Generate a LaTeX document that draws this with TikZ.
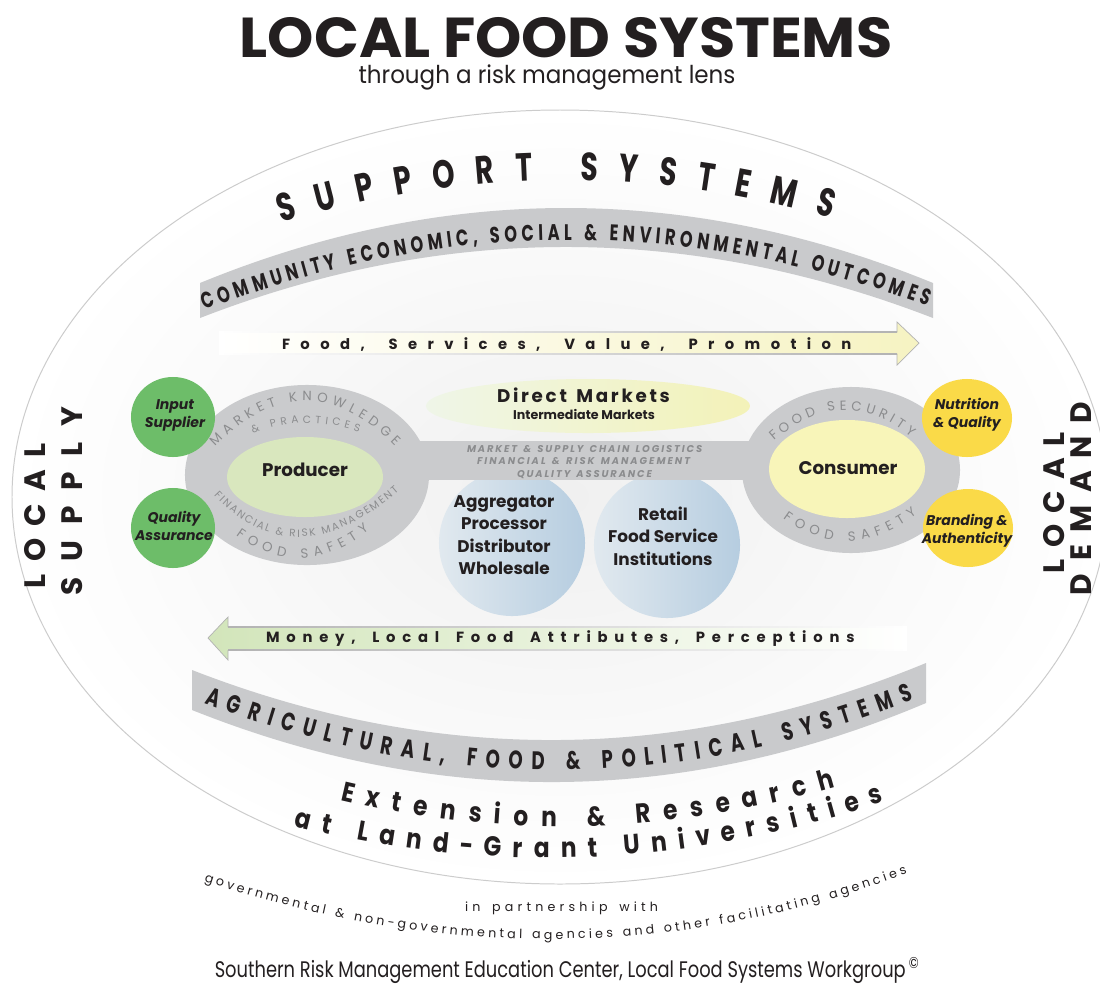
\documentclass[tikz,border=0pt]{standalone}
\usepackage{graphicx}
\usepackage{fontspec}
\setmainfont{Poppins}
\newfontfamily\condfont[FakeStretch=0.72]{Poppins}
\newfontfamily\semicondfont[FakeStretch=0.85]{Poppins}
\usepackage{tikz}
\usetikzlibrary{shapes.geometric,decorations.text,calc}

\definecolor{ink}{HTML}{231F20}
\definecolor{ringgray}{HTML}{CACBCD}
\definecolor{ringtxt}{HTML}{8B8C8E}
\definecolor{bandgray}{HTML}{C9CACC}
\definecolor{ballgreen}{HTML}{6DBD69}
\definecolor{ballyellow}{HTML}{FADA48}
\definecolor{prodfill}{HTML}{D9E7BE}
\definecolor{consfill}{HTML}{F8F5B9}
\definecolor{bluelt}{HTML}{E1E9EF}
\definecolor{bluedk}{HTML}{B6CDE0}
\definecolor{foodyellow}{HTML}{F6F3C2}
\definecolor{moneygreen}{HTML}{D2E5BA}
\definecolor{dmgreen}{HTML}{C9DFB2}
\definecolor{dmyellow}{HTML}{F3F2B8}

\tikzstyle{ball} = [ellipse, inner sep=0pt]
\tikzstyle{greenball} = [ball, fill=ballgreen, minimum width=2.1cm, minimum height=2cm]
\tikzstyle{yellowball} = [ball, fill=ballyellow, minimum width=2.25cm, minimum height=1.95cm]
\tikzstyle{ring} = [ellipse, inner sep=0pt, fill=ringgray]
\tikzstyle{hub} = [ellipse, inner sep=0pt]
\tikzstyle{bluecircle} = [circle, inner sep=0pt, minimum size=3.65cm, left color=bluelt, right color=bluedk]
\tikzstyle{hubtext} = [font=\bfseries\fontsize{13}{15}\selectfont, text=ink]
\tikzstyle{balltext} = [font=\bfseries\itshape\fontsize{10}{12.8}\selectfont, text=ink, align=center, inner sep=0pt]
\tikzstyle{bluetext} = [font=\bfseries\fontsize{12}{15.9}\selectfont, text=ink, align=center, inner sep=0pt]
\tikzstyle{edgeline} = [line width=0.5pt, draw=gray!60, line join=miter]

% fonts for the texts set along curves
\newcommand{\supfont}{\condfont\bfseries\fontsize{28}{30}\selectfont\color{ink}}
\newcommand{\bandfont}{\condfont\bfseries\fontsize{16}{17}\selectfont\color{ink}}
\newcommand{\agfont}{\condfont\bfseries\fontsize{18}{20}\selectfont\color{ink}}
\newcommand{\extfont}{\semicondfont\bfseries\fontsize{19.5}{21}\selectfont\color{ink}}
\newcommand{\sidefont}{\bfseries\fontsize{21}{24}\selectfont\color{ink}}
\newcommand{\flowfont}{\bfseries\fontsize{10.5}{12}\selectfont\color{ink}}
\newcommand{\dmfont}{\bfseries\fontsize{13}{15}\selectfont\color{ink}}
\newcommand{\ringfont}{\fontsize{9.5}{11}\selectfont\color{ringtxt}}
\newcommand{\ringsmall}{\fontsize{7.5}{9}\selectfont\color{ringtxt}}
\newcommand{\barfont}{\bfseries\itshape\fontsize{7}{8}\selectfont\color{ringtxt}}
\newcommand{\partfont}{\fontsize{9}{10}\selectfont\color{ink}}

% text along a curve through start, middle and end point
\newcommand{\curvetext}[5]{%
  \path[decorate, decoration={text along path, text align=fit to path, text={|#1|#2}}]
    (#3) .. controls ($1.3333*(#4)-0.3333*(#5)$) and ($1.3333*(#4)-0.3333*(#3)$) .. (#5);}

\begin{document}
\begin{tikzpicture}[x=0.025cm, y=-0.025cm]
\useasboundingbox[fill=white] (0,0) rectangle (1100,989);

%title
\node[anchor=base, inner sep=0pt] (title) at (566,57) {\resizebox{464pt}{\height}{\bfseries\fontsize{40}{44}\selectfont\color{ink}LOCAL FOOD SYSTEMS}};
\node[anchor=base, inner sep=0pt] (subtitle) at (547,83) {\resizebox{268pt}{\height}{\fontsize{17.5}{20}\selectfont\color{ink}through a risk management lens}};

%outer ellipse
\shade[inner color=gray!12, outer color=white] (560,497) ellipse [x radius=548, y radius=387];
\draw[gray!40, line width=0.7pt] (560,497) ellipse [x radius=548, y radius=387];

%bands
\fill[bandgray] (200,283) .. controls (443.7,183) and (688,183) .. (933,283) -- (933,318) .. controls (688,223.3) and (443.7,223.3) .. (200,318) -- cycle;
\fill[bandgray] (192,670) .. controls (438,765.7) and (682.7,763.3) .. (926,663) -- (926,703) .. controls (682.7,806) and (438,808.3) .. (192,710) -- cycle;

%flow arrows
\shade[left color=white, right color=foodyellow] (219,332) -- (897,332) -- (897,322) -- (919,343) -- (897,365) -- (897,354) -- (219,354) -- cycle;
\shade[left color=white, right color=gray!60] (219,331.4) rectangle (897,332.6);
\shade[left color=white, right color=gray!60] (219,353.4) rectangle (897,354.6);
\draw[edgeline] (897,332) -- (897,322) -- (919,343) -- (897,365) -- (897,354);
\shade[left color=moneygreen, right color=white] (208,638) -- (228,617) -- (228,627) -- (907,627) -- (907,650) -- (228,650) -- (228,660) -- cycle;
\shade[left color=gray!60, right color=white] (228,626.4) rectangle (907,627.6);
\shade[left color=gray!60, right color=white] (228,649.4) rectangle (907,650.6);
\draw[edgeline] (228,627) -- (228,617) -- (208,638) -- (228,660) -- (228,650);

%blocks
\node[bluecircle] (aggcircle) at (512,543) {};
\node[bluecircle] (retcircle) at (667,545) {};
\node[ring, minimum width=6.1cm, minimum height=4.5cm] (prodring) at (307,475) {};
\node[ring, minimum width=5.45cm, minimum height=4.15cm] (consring) at (851,470) {};
\fill[ringgray] (405,441) rectangle (780,480);
\node[hub, fill=prodfill, minimum width=3.9cm, minimum height=2cm] (prodhub) at (305,477) {};
\node[hub, fill=consfill, minimum width=3.9cm, minimum height=2.45cm] (conshub) at (847,469) {};
\node[hub, minimum width=8.1cm, minimum height=1.35cm, left color=dmgreen!30!white, middle color=dmgreen, right color=dmyellow] (directmk) at (588,406) {};
\node[greenball] (inputball) at (173,417) {};
\node[greenball] (qualball) at (173,528) {};
\node[yellowball] (nutriball) at (967,418) {};
\node[yellowball] (brandball) at (968,528) {};

%labels
\node[hubtext] (producer) at (305,470) {Producer};
\node[hubtext] (consumer) at (848,468) {Consumer};
\node[balltext] (inputtxt) at (175,415) {Input\\Supplier};
\node[balltext] (qualtxt) at (174,526) {Quality\\Assurance};
\node[balltext] (nutritxt) at (967,415) {Nutrition\\\& Quality};
\node[balltext] (brandtxt) at (967,531) {Branding \&\\Authenticity};
\node[bluetext] (aggtxt) at (504,535) {Aggregator\\Processor\\Distributor\\Wholesale};
\node[bluetext] (rettxt) at (663,536) {Retail\\Food Service\\Institutions};
\node[font=\bfseries\fontsize{9}{10}\selectfont, text=ink, inner sep=0pt] (intermk) at (584,414) {Intermediate Markets};
\node[anchor=base, inner sep=0pt] (credit) at (567,977) {\resizebox{501pt}{\height}{\fontsize{16}{18}\selectfont\color{ink}Southern Risk Management Education Center, Local Food Systems Workgroup\,\textsuperscript{\textcopyright}}};

%curved texts
\curvetext{\supfont}{SUPPORT SYSTEMS}{282,223}{556,180}{831,218}
\curvetext{\bandfont}{COMMUNITY ECONOMIC, SOCIAL {\&} ENVIRONMENTAL OUTCOMES}{205,310}{566,240}{927,306}
\curvetext{\flowfont}{Food, Services, Value, Promotion}{282,349}{566.5,349}{851,349}
\curvetext{\flowfont}{Money, Local Food Attributes, Perceptions}{266,642}{560,642}{854,642}
\curvetext{\dmfont}{Direct Markets}{497,402}{583.5,402}{670,402}
\curvetext{\agfont}{AGRICULTURAL, FOOD {\&} POLITICAL SYSTEMS}{204,703}{560,770}{913,700}
\curvetext{\extfont}{Extension {\&} Research}{340,800}{587,826}{835,787}
\curvetext{\extfont}{at Land-Grant Universities}{294,826}{588,857}{884,802}
\curvetext{\partfont}{in partnership with}{465,911}{561.5,911}{658,911}
\curvetext{\partfont}{governmental {\&} non-governmental agencies and other facilitating agencies}{204,881}{560,939}{906,874}

%ring texts
\curvetext{\ringfont}{MARKET KNOWLEDGE}{215,447}{305,401}{395,446}
\curvetext{\ringsmall}{{\&} PRACTICES}{253,434}{305,423}{359,432}
\curvetext{\ringsmall}{FINANCIAL {\&} RISK MANAGEMENT}{214,495}{300,537}{399,491}
\curvetext{\ringfont}{FOOD SAFETY}{236,535}{302,558}{369,530}
\curvetext{\ringfont}{FOOD SECURITY}{774,441}{843,410}{911,437}
\curvetext{\ringfont}{FOOD SAFETY}{783,518}{849,541}{917,514}
\curvetext{\barfont}{MARKET {\&} SUPPLY CHAIN LOGISTICS}{467,452}{584.5,452}{702,452}
\curvetext{\barfont}{FINANCIAL {\&} RISK MANAGEMENT}{477,464}{583.5,464}{690,464}
\curvetext{\barfont}{QUALITY ASSURANCE}{517,477}{584.5,477}{652,477}

%side texts
\curvetext{\sidefont}{LOCAL}{45,588}{45,515.5}{45,443}
\curvetext{\sidefont}{SUPPLY}{82,595}{82,501}{82,407}
\curvetext{\sidefont}{LOCAL}{1064,573}{1064,502.5}{1064,432}
\curvetext{\sidefont}{DEMAND}{1091,595}{1091,498.5}{1091,402}
\end{tikzpicture}
\end{document}
